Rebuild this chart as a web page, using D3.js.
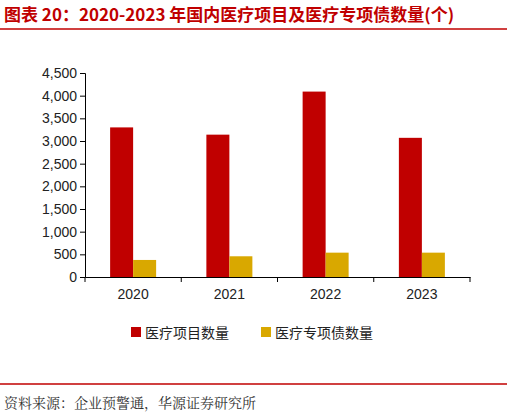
<!DOCTYPE html>
<html><head><meta charset="utf-8">
<script src="https://cdn.jsdelivr.net/npm/d3@7"></script>
<style>body{margin:0;background:#fff}</style></head>
<body><svg id="c" width="507" height="417"></svg>
<script>
const categories=["2020","2021","2022","2023"];
const seriesNames=["医疗项目数量","医疗专项债数量"];
const projects=[3300,3140,4090,3070];
const bonds=[376,457,537,537];
const yTicks=[0,500,1000,1500,2000,2500,3000,3500,4000,4500];
const colors=["#C00000","#D9A800"];
const svg=d3.select("#c");
const font="Arial, 'Liberation Sans', 'Noto Sans CJK SC', sans-serif";
svg.append("text").attr("x",4).attr("y",21).attr("fill","#C00000").attr("font-weight","bold")
 .attr("font-size",17).attr("font-family","'Noto Sans CJK SC', sans-serif").text("图表 20：2020-2023 年国内医疗项目及医疗专项债数量(个)");
svg.append("line").attr("x1",0).attr("x2",507).attr("y1",29).attr("y2",29).attr("stroke","#C00000").attr("stroke-width",1.5);
const x=d3.scaleBand().domain(categories).range([85,470]);
const y=d3.scaleLinear().domain([0,4500]).range([277,73]);
const bw=23;
const g=svg.append("g");
[projects,bonds].forEach((arr,si)=>{
 g.selectAll(null).data(categories).enter().append("rect")
  .attr("x",d=>x(d)+x.bandwidth()/2-bw+si*bw).attr("width",bw)
  .attr("y",(d,i)=>y(arr[i])).attr("height",(d,i)=>277-y(arr[i])).attr("fill",colors[si]);
});
const ya=svg.append("g").attr("transform","translate(85,0)").call(d3.axisLeft(y).tickValues(yTicks).tickFormat(d3.format(",")).tickSize(5));
ya.selectAll("text").attr("font-size",14).attr("font-family",font).attr("fill","#222");
const xa=svg.append("g").attr("transform","translate(0,277)").call(d3.axisBottom(x).tickSize(0).tickPadding(12));
xa.selectAll("text").attr("font-size",14).attr("font-family",font).attr("fill","#222");
[85,181.25,277.5,373.75,470].forEach(v=>svg.append("line").attr("x1",v).attr("x2",v).attr("y1",277).attr("y2",282).attr("stroke","#000"));
svg.selectAll(".domain").attr("stroke","#000");
svg.selectAll(".tick line").attr("stroke","#000");
const leg=[[131,seriesNames[0]],[261,seriesNames[1]]];
leg.forEach(([lx,t],i)=>{
 svg.append("rect").attr("x",lx).attr("y",327).attr("width",10).attr("height",10).attr("fill",colors[i]);
 svg.append("text").attr("x",lx+14).attr("y",338).attr("font-size",14).attr("font-family","'Noto Sans CJK SC', sans-serif").attr("fill","#222").text(t);
});
svg.append("line").attr("x1",0).attr("x2",507).attr("y1",384).attr("y2",384).attr("stroke","#C00000").attr("stroke-width",1.5);
svg.append("text").attr("x",4).attr("y",408).attr("font-size",14).attr("font-family","'Noto Serif CJK SC','Noto Sans CJK SC', serif").attr("fill","#333").text("资料来源：企业预警通，华源证券研究所");
</script></body></html>
